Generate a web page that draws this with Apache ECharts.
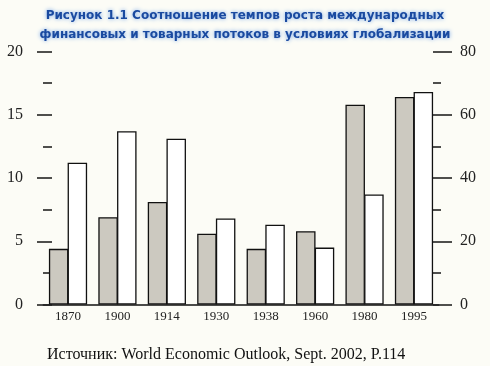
<!DOCTYPE html>
<html>
<head>
<meta charset="utf-8">
<script src="https://cdn.jsdelivr.net/npm/echarts@6/dist/echarts.min.js"></script>
<style>
html,body{margin:0;padding:0;background:#fcfcf6;}
#c{width:490px;height:366px;}
</style>
</head>
<body>
<div id="c"></div>
<script>
const categories = ['1870','1900','1914','1930','1938','1960','1980','1995'];
const grayValues = [4.4, 6.9, 8.1, 5.6, 4.4, 5.8, 15.8, 16.4];
const whiteValues = [11.2, 13.7, 13.1, 6.8, 6.3, 4.5, 8.7, 16.8];
const titleText = 'Рисунок 1.1 Соотношение темпов роста международных\nфинансовых и товарных потоков в условиях глобализации';
const sourceText = 'Источник: World Economic Outlook, Sept. 2002, P.114';

const chart = echarts.init(document.getElementById('c'));
const serif = '"Liberation Serif", "DejaVu Serif", serif';
chart.setOption({
  backgroundColor: '#fcfcf6',
  animation: false,
  title: [
    {
      text: titleText,
      left: 'center',
      top: 1,
      textStyle: {
        fontFamily: '"DejaVu Sans", Verdana, sans-serif',
        fontWeight: 'bold',
        fontSize: 12,
        lineHeight: 19,
        color: '#1a4aa0',
        textShadowColor: 'rgba(110,160,230,1)',
        textShadowBlur: 4
      }
    },
    {
      text: sourceText,
      left: 47,
      top: 347,
      padding: 0,
      textStyle: {
        fontFamily: serif,
        fontWeight: 'normal',
        fontSize: 16,
        color: '#111'
      }
    }
  ],
  grid: { left: 43.3, right: 51.3, top: 51.5, bottom: 61.5 },
  xAxis: {
    type: 'category',
    data: categories,
    axisLine: { lineStyle: { color: '#111', width: 1.5 } },
    axisTick: { show: false },
    axisLabel: { fontFamily: serif, fontSize: 13, color: '#222', margin: 6 }
  },
  yAxis: [
    {
      type: 'value', min: 0, max: 20, interval: 5,
      position: 'left', offset: -8.7,
      axisLine: { show: false },
      axisTick: { show: true, length: 15, lineStyle: { color: '#222', width: 1.6 } },
      minorTick: { show: true, splitNumber: 2, length: 9, lineStyle: { color: '#222', width: 1.6 } },
      splitLine: { show: false },
      axisLabel: { fontFamily: serif, fontSize: 16, color: '#222', margin: 29 }
    },
    {
      type: 'value', min: 0, max: 80, interval: 20,
      position: 'right', offset: -5.7,
      axisLine: { show: false },
      axisTick: { show: true, length: 19, lineStyle: { color: '#222', width: 1.6 } },
      minorTick: { show: true, splitNumber: 2, length: 8, lineStyle: { color: '#222', width: 1.6 } },
      splitLine: { show: false },
      axisLabel: { fontFamily: serif, fontSize: 16, color: '#222', margin: 27 }
    }
  ],
  series: [
    {
      type: 'bar', data: grayValues, yAxisIndex: 0,
      barWidth: 19.5, barGap: '-4%',
      itemStyle: { color: '#ccc9c0', borderColor: '#111', borderWidth: 1.3 }
    },
    {
      type: 'bar', data: whiteValues, yAxisIndex: 0,
      barWidth: 19.5, barGap: '-4%',
      itemStyle: { color: '#ffffff', borderColor: '#111', borderWidth: 1.3 }
    }
  ]
});
</script>
</body>
</html>
